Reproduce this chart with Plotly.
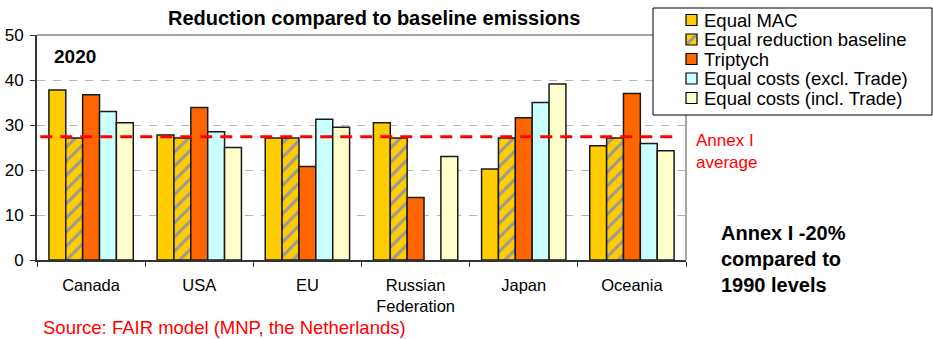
import plotly.graph_objects as go

regions = ["Canada", "USA", "EU", "Russian<br>Federation", "Japan", "Oceania"]
series_names = ["Equal MAC", "Equal reduction baseline", "Triptych",
                "Equal costs (excl. Trade)", "Equal costs (incl. Trade)"]
equal_mac = [37.8, 27.8, 27.1, 30.5, 20.2, 25.4]
equal_reduction = [27.1, 27.1, 27.1, 27.1, 27.1, 27.1]
triptych = [36.7, 33.9, 20.8, 13.9, 31.6, 37.0]
costs_excl = [33.0, 28.5, 31.3, None, 35.0, 25.9]
costs_incl = [30.5, 25.0, 29.5, 23.0, 39.1, 24.3]
annex_avg = 27.4
y_ticks = [0, 10, 20, 30, 40, 50]

FONT = "Liberation Sans, Arial, sans-serif"
colors = ["#FFCC00", "#FFCC00", "#FF6600", "#CCFFFF", "#FFFFCC"]
values = [equal_mac, equal_reduction, triptych, costs_excl, costs_incl]

W, H = 933, 339
L, R, T, B = 37, 686, 35, 260


def px(x):
    return (x - L) / (R - L)


def py(y):
    return (B - y) / (B - T)


fig = go.Figure()
for i, (name, vals, col) in enumerate(zip(series_names, values, colors)):
    marker = dict(color=col, line=dict(color="#1a1a1a", width=1.5))
    if i == 1:
        marker["pattern"] = dict(shape="/", fgcolor="#9a9a9a", bgcolor="#FFCC00",
                                 size=10, solidity=0.3, fillmode="replace")
    fig.add_trace(go.Bar(name=name, x=regions, y=vals, marker=marker, showlegend=False))

# Annex I average line
fig.add_trace(go.Scatter(x=[-0.47, 5.43], y=[annex_avg, annex_avg], mode="lines",
                         xaxis="x2", line=dict(color="#FF0000", width=3, dash="12px,8px"),
                         showlegend=False, hoverinfo="skip"))

fig.update_layout(
    width=W, height=H,
    margin=dict(l=L, r=W - R, t=T, b=H - B, autoexpand=False),
    paper_bgcolor="white", plot_bgcolor="white",
    barmode="group", bargap=0.22, bargroupgap=0,
    font=dict(family=FONT, size=16, color="#000000"),
    showlegend=False,
    xaxis=dict(type="category", showline=True, linecolor="#333333", linewidth=2,
               ticks="outside", tickson="boundaries", ticklen=5, tickcolor="#333333",
               tickfont=dict(size=16.5), showgrid=False, range=[-0.5, 5.5],
               ticklabelstandoff=9, automargin=False),
    xaxis2=dict(overlaying="x", range=[-0.5, 5.5], visible=False),
    yaxis=dict(range=[0, 50], tickvals=y_ticks, showline=True, linecolor="#333333",
               linewidth=2, ticks="outside", ticklen=5, tickcolor="#333333",
               tickfont=dict(size=17), showgrid=True, gridcolor="#b4b4b4",
               griddash="8px,8px", gridwidth=1, zeroline=False,
               ticklabelstandoff=3, automargin=False),
)

# gray top/right border
fig.add_shape(type="line", xref="paper", yref="paper", x0=0, x1=1, y0=1, y1=1,
              line=dict(color="#888888", width=1.5))
fig.add_shape(type="line", xref="paper", yref="paper", x0=1, x1=1, y0=0, y1=1,
              line=dict(color="#888888", width=1.5))

# manual legend
fig.add_shape(type="rect", xref="paper", yref="paper",
              x0=px(653), x1=px(932), y0=py(115), y1=py(8),
              line=dict(color="#000000", width=1), fillcolor="white", layer="above")
legend_y = [20, 39.5, 59, 78.5, 98]
for i, (name, col, yc) in enumerate(zip(series_names, colors, legend_y)):
    x0, x1 = 686, 697
    y0, y1 = yc - 5.5, yc + 5.5
    fig.add_shape(type="rect", xref="paper", yref="paper",
                  x0=px(x0), x1=px(x1), y0=py(y1), y1=py(y0),
                  fillcolor=col, line=dict(width=0), layer="above")
    if i == 1:
        fig.add_shape(type="line", xref="paper", yref="paper",
                      x0=px(x0 + 1), x1=px(x1 - 1), y0=py(y1 - 1), y1=py(y0 + 1),
                      line=dict(color="#9a9a9a", width=3), layer="above")
    fig.add_shape(type="rect", xref="paper", yref="paper",
                  x0=px(x0), x1=px(x1), y0=py(y1), y1=py(y0),
                  fillcolor="rgba(0,0,0,0)", line=dict(color="#000000", width=1.2),
                  layer="above")
    fig.add_annotation(text=name, xref="paper", yref="paper", x=px(702), y=py(yc),
                       xanchor="left", yanchor="middle", showarrow=False,
                       font=dict(size=18.5, family=FONT, color="#000000"))

fig.add_annotation(text="<b>Reduction compared to baseline emissions</b>",
                   xref="paper", yref="paper", x=px(374), y=py(18),
                   xanchor="center", yanchor="middle", showarrow=False,
                   font=dict(size=20, family=FONT))
fig.add_annotation(text="<b>2020</b>", xref="paper", yref="paper",
                   x=px(52), y=py(57), xanchor="left", yanchor="middle", showarrow=False,
                   font=dict(size=19, family=FONT))
fig.add_annotation(text="Annex I<br>average", xref="paper", yref="paper",
                   x=px(694), y=py(151), xanchor="left",
                   yanchor="middle", align="left", showarrow=False,
                   font=dict(size=17, color="#FF0000", family=FONT))
fig.add_annotation(text="<b>Annex I -20%<br>compared to<br>1990 levels</b>",
                   xref="paper", yref="paper", x=px(719), y=py(259),
                   xanchor="left", yanchor="middle", align="left", showarrow=False,
                   font=dict(size=20, family=FONT))
fig.add_annotation(text="Source: FAIR model (MNP, the Netherlands)", xref="paper",
                   yref="paper", x=px(41), y=py(327),
                   xanchor="left", yanchor="middle", showarrow=False,
                   font=dict(size=18.5, color="#FF0000", family=FONT))

fig.write_html("out.html")
